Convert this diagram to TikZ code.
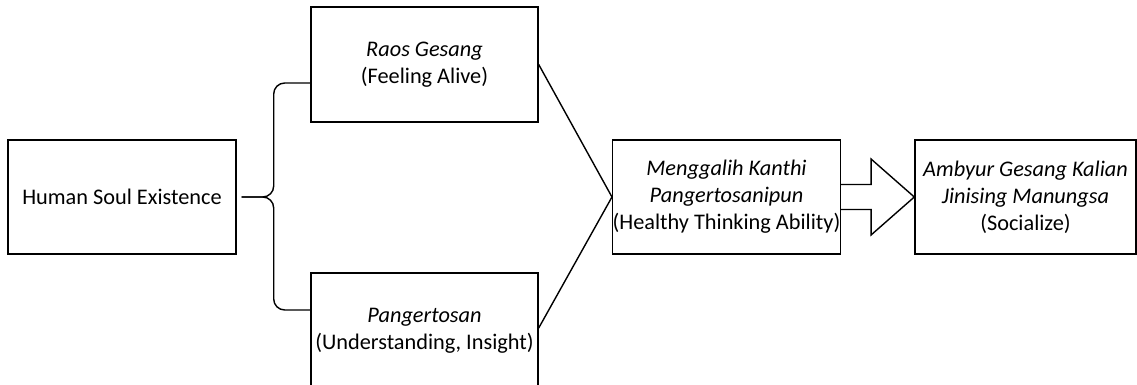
\documentclass[tikz,border=0pt]{standalone}
\usepackage{fontspec}
\setmainfont{Carlito}
\usetikzlibrary{calc}
\begin{document}
\begin{tikzpicture}[x=1pt,y=-1pt,
  box/.style={draw,line width=1.4pt,align=center,inner sep=0pt,
    font={\fontsize{22.3}{27}\selectfont}},
  conn/.style={line width=1.4pt}]
\useasboundingbox (0,0) rectangle (1137,385);
\node[box,minimum width=228pt,minimum height=114pt] (human) at (122,197) {Human Soul Existence};
\node[box,minimum width=227pt,minimum height=115pt] (raos) at (424.5,64.5) {\textit{Raos Gesang}\\(Feeling Alive)};
\node[box,minimum width=227pt,minimum height=115pt] (pang) at (424.5,330.5) {\textit{Pangertosan}\\(Understanding, Insight)};
\node[box,minimum width=227pt,minimum height=114pt] (meng) at (726.5,197) {\textit{Menggalih Kanthi}\\\textit{Pangertosanipun}\\(Healthy Thinking Ability)};
\node[box,minimum width=221pt,minimum height=114pt] (amb) at (1025.5,197) {\textit{Ambyur Gesang Kalian}\\\textit{Jinising Manungsa}\\(Socialize)};
% brace
\coordinate (bm) at ([xshift=5pt]human.east);
\coordinate (bx) at ([xshift=37pt]human.east);
\coordinate (bt) at ([yshift=-18.5pt]raos.west);
\coordinate (bb) at ([yshift=20.5pt]pang.west);
\draw[conn,rounded corners=11pt] (bm) -- (bx) -- (bx |- bt) -- (bt);
\draw[conn,rounded corners=11pt] (bm) -- (bx) -- (bx |- bb) -- (bb);
% converging lines
\draw[conn] (raos.east) -- (meng.west);
\draw[conn] ([yshift=2.5pt]pang.east) -- (meng.west);
% block arrow
\coordinate (a1) at ([yshift=12.5pt]meng.east);
\coordinate (a2) at ([xshift=30pt,yshift=12.5pt]meng.east);
\coordinate (a3) at ([xshift=30pt,yshift=38pt]meng.east);
\coordinate (a4) at ([xshift=30pt,yshift=-38pt]meng.east);
\coordinate (a5) at ([xshift=30pt,yshift=-12.5pt]meng.east);
\coordinate (a6) at ([yshift=-12.5pt]meng.east);
\draw[conn,line join=miter] (a1) -- (a2) -- (a3) -- (amb.west) -- (a4) -- (a5) -- (a6);
\end{tikzpicture}
\end{document}
